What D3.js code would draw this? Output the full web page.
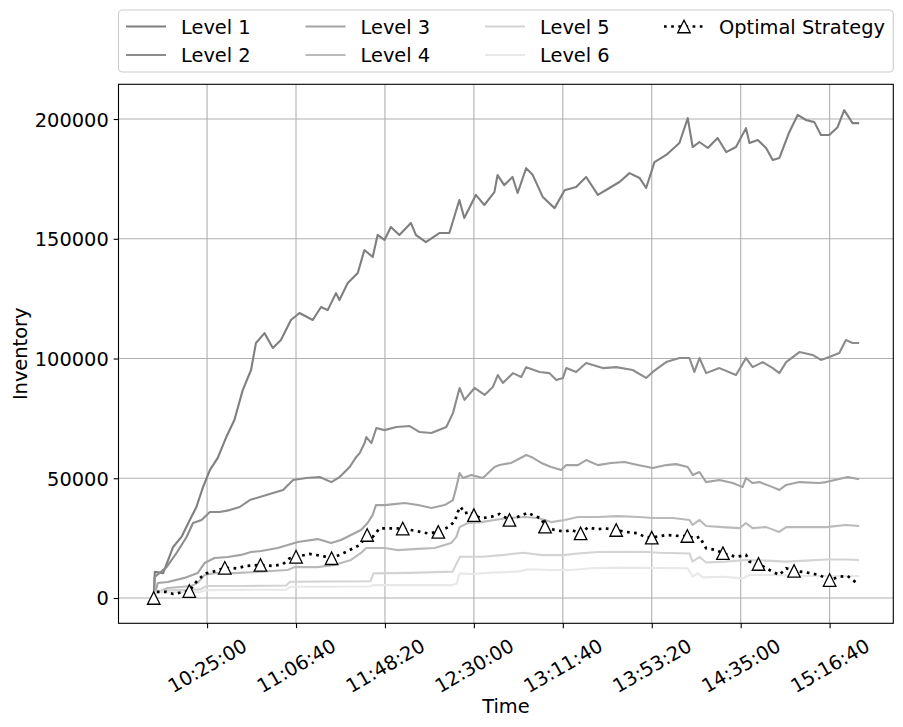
<!DOCTYPE html>
<html>
<head>
<meta charset="utf-8">
<script src="https://cdn.jsdelivr.net/npm/d3@7"></script>
<style>
  body { margin: 0; background: #fff; }
  svg { display: block; }
  text { font-family: "DejaVu Sans", sans-serif; }
</style>
</head>
<body>
<svg id="chart" width="903" height="727"></svg>
<script>
// minutes after session start, inventory
const startTime = '10:00:00';
const xTickLabels = ['10:25:00', '11:06:40', '11:48:20', '12:30:00', '13:11:40', '13:53:20', '14:35:00', '15:16:40'];
const yTickValues = [0, 50000, 100000, 150000, 200000];
const seriesNames = ['Level 1', 'Level 2', 'Level 3', 'Level 4', 'Level 5', 'Level 6'];

const level1 = [[0,0],[0.5,10900],[4.4,10400],[9.1,21300],[13.0,25500],[16.9,32600],[20.0,38000],[23.1,46300],[26.3,53400],[30.0,58500],[33.8,66800],[37.8,74300],[41.7,86800],[45.6,95200],[47.9,106500],[51.9,110600],[55.8,104400],[59.6,107700],[64.3,116100],[68.3,119000],[74.5,116100],[78.4,121500],[81.5,120200],[85.4,127300],[87.0,124400],[90.9,131500],[95.6,135700],[98.7,145300],[102.6,142400],[104.9,151600],[108.1,149500],[111.1,154900],[115.1,151600],[120.5,156600],[122.8,151600],[127.5,148600],[133.8,152400],[138.5,152400],[143.2,166200],[145.5,158700],[150.9,168300],[154.9,164100],[159.6,169500],[161.1,176600],[164.2,172400],[168.1,175800],[170.5,169100],[174.5,179500],[177.6,176600],[182.3,167400],[187.8,162800],[192.5,170300],[197.9,171600],[202.6,175800],[208.1,168300],[213.5,171200],[218.2,173700],[222.9,177400],[227.6,175400],[230.7,171200],[234.6,182000],[240.1,185000],[246.3,190000],[250.2,200400],[252.5,188300],[255.7,190400],[259.6,187900],[264.2,192100],[268.2,186200],[272.8,188300],[277.5,196200],[279.1,190000],[283.0,191200],[286.9,187900],[290.0,182900],[293.1,183700],[297.8,194600],[301.7,201700],[305.6,199600],[309.5,198700],[312.6,193300],[316.5,193300],[320.4,196600],[323.5,203700],[327.4,198300],[330,198300]];

const level2 = [[0,0],[0.5,8800],[6.0,12900],[10.7,18800],[15.4,25500],[18.4,31300],[22.4,32600],[26.3,35900],[30.9,35900],[35.6,36700],[40.3,38000],[45.0,40900],[49.7,42200],[55.9,43800],[60.6,45100],[65.3,49300],[71.5,50100],[77.8,50500],[83.2,48400],[87.1,50500],[91.8,54700],[94.9,58900],[96.5,60500],[98.8,64700],[99.6,67200],[102.0,64700],[104.3,71000],[108.1,70100],[113.7,71400],[119.9,71800],[124.6,69300],[130.1,68900],[137.1,71400],[140.2,77200],[143.3,87700],[145.6,82700],[150.3,87700],[155.0,84800],[158.9,88100],[161.2,93100],[163.6,89800],[168.3,93900],[172.2,92300],[174.5,96400],[180.8,94400],[185.4,93900],[188.6,91000],[191.7,91900],[193.3,96000],[197.9,94400],[202.6,98100],[210.4,96000],[216.7,96400],[224.4,95200],[230.7,91900],[233.8,94400],[240.1,98500],[246.3,100200],[251.0,100200],[253.3,94400],[255.7,100200],[258.8,93900],[265.0,96000],[272.8,93100],[277.5,100200],[280.6,96400],[285.3,98500],[290.0,96000],[293.1,93900],[296.3,98500],[302.5,102700],[308.7,101500],[312.6,99400],[316.5,100600],[321.2,102300],[324.3,107700],[327.4,106500],[330,106500]];

const level3 = [[0,0],[1.9,6300],[6.6,6700],[14.4,8400],[20.6,10400],[23.8,14600],[28.5,16700],[34.7,17100],[40.9,18000],[45.6,19200],[50.3,19600],[58.1,20900],[62.8,22100],[67.5,23400],[76.8,24600],[83.1,23000],[87.7,24200],[92.4,26300],[97.1,28400],[100.2,31300],[102.6,34700],[104.1,38800],[108.2,38800],[117.6,39700],[123.8,38800],[130.1,37600],[136.3,38800],[140.2,40900],[141.8,46300],[143.3,52200],[144.9,50100],[148.8,51400],[154.2,50100],[159.7,54700],[162.0,55500],[167.5,56400],[174.5,59700],[176.9,58900],[181.6,56400],[186.2,54700],[190.9,53400],[193.3,55500],[198.7,55500],[202.6,57600],[208.1,55500],[214.3,56400],[220.6,56800],[226.8,55500],[233.8,54300],[240.1,55500],[244.8,55900],[250.2,54700],[252.5,51400],[255.7,52600],[258.8,48400],[265.0,49300],[271.3,48000],[275.9,46300],[277.5,50100],[280.6,48000],[283.8,48400],[290.0,46300],[293.1,45100],[296.3,47200],[302.5,48400],[311.8,48000],[315.0,48400],[321.2,49700],[325.1,50500],[330,49700]];

const level4 = [[0,0],[0.6,2000],[6.6,4200],[17.5,5000],[20.6,6300],[23.8,9600],[28.5,10400],[37.8,10400],[48.7,10900],[62.8,11700],[65.9,12900],[76.8,12900],[84.6,13800],[92.4,15900],[97.1,18800],[99.6,20900],[108.2,20900],[114.4,20000],[123.8,20500],[131.6,20900],[139.4,23000],[141.8,25500],[143.3,29600],[147.2,31300],[153.5,31700],[159.7,32600],[165.9,33400],[173.7,33800],[180.0,33400],[186.2,31700],[192.5,32600],[198.7,33800],[208.1,33800],[217.4,34200],[227.6,33800],[233.8,33400],[243.2,33400],[251.0,32600],[252.5,30500],[255.7,32600],[258.8,30100],[266.6,29600],[274.4,29200],[277.5,31300],[280.6,29200],[286.9,29600],[293.1,27600],[296.3,29600],[305.6,29600],[315.0,29600],[324.3,30500],[330,30100]];

const level5 = [[0,0],[1,2900],[10,3300],[22,3600],[24.5,5000],[40,5000],[62,5200],[64,6800],[80,6900],[101.5,7000],[103,10300],[120,10500],[140,11000],[142.5,15500],[143.5,17200],[154,17200],[163,17900],[173,18900],[182,17900],[192,17900],[198.7,18600],[208.1,19200],[229.9,19300],[237,18900],[251,18600],[252.5,15200],[255.7,17200],[258.8,14800],[268,15200],[277.5,15900],[286.9,15600],[296.3,15200],[305.6,15600],[315,16100],[324.3,16100],[330,15900]];

const level6 = [[0,0],[1,2300],[22,2500],[24.5,3300],[62,3500],[64,4700],[101.5,4800],[103,5400],[140,5400],[142,6100],[143.3,10300],[148.8,10000],[158.1,10600],[170.6,11000],[175.3,12000],[186.2,11700],[195.6,11700],[205,12400],[217.4,12700],[250.2,12400],[252.5,8900],[254.8,10300],[257.2,8600],[266.6,8900],[276,8200],[279.1,9600],[290,9600],[305.6,9200],[330,9200]];

const optimal = [[0,0],[1.3,2600],[6.0,2600],[9.1,1700],[12.2,2200],[16.67,2900],[20.0,6800],[22.4,8900],[24.7,10300],[27.8,11000],[33.33,12600],[38.8,12400],[43.4,13400],[50,13800],[55.9,13400],[60.6,14200],[63.7,16600],[66.67,17200],[73.1,18400],[79.3,17500],[83.33,16600],[87.1,18000],[91.8,20000],[96.5,22100],[100,26300],[102.7,25600],[105.8,29100],[109.7,29100],[116.67,29000],[122.2,28100],[128.5,27000],[133.33,27600],[137.8,29500],[141.0,31900],[142.5,36000],[143.8,38100],[145.6,35400],[148.8,36000],[150,34600],[153.5,33300],[158.1,33900],[162.0,35100],[166.67,32600],[170.6,33900],[175.3,35600],[178.4,34200],[181.6,33300],[183.33,29800],[187.8,28400],[192.5,27700],[195.6,28400],[200,27000],[203.4,29500],[208.1,28700],[211.3,29100],[216.67,28400],[220.6,27700],[226.8,27000],[229.9,25600],[233.33,25200],[240.1,26300],[246.3,25900],[250,25900],[254.1,24900],[255.7,25600],[258.8,20800],[263.5,20000],[266.67,18700],[272.8,17200],[277.5,18000],[279.1,15200],[283.33,14200],[288.5,11700],[293.1,9600],[296.3,12400],[300,11300],[305.6,10700],[311.8,9600],[316.67,7500],[321.2,8900],[325.1,9200],[330,5800]];

const levels = [level1, level2, level3, level4, level5, level6];

// ---- layout / style ----
const fontSize = 19.4;
const plot = { left: 118.5, right: 893.3, top: 84.3, bottom: 623.3 };
const levelColors = ['#7f7f7f', '#8c8c8c', '#a3a3a3', '#bababa', '#d3d3d3', '#e8e8e8'];
const lw = 2.1;
const dotW = 2.7;
const dash = `${dotW},${dotW * 1.65}`;
const tickLen = 4.86;
const triHalf = 6.25;
const triPath = `M0,${-triHalf}L${-triHalf},${triHalf}L${triHalf},${triHalf}Z`;

const parseTime = d3.timeParse('%H:%M:%S');
const t0 = parseTime(startTime);
const toDate = (m) => new Date(t0.getTime() + m * 60000);

const x = d3.scaleTime()
  .domain([parseTime('09:43:30'), parseTime('15:46:30')])
  .range([plot.left, plot.right]);
const y = d3.scaleLinear()
  .domain([-10560, 214500])
  .range([plot.bottom, plot.top]);

const xTicks = xTickLabels.map(parseTime);

const svg = d3.select('#chart');

// grid
const grid = svg.append('g').attr('class', 'grid')
  .attr('stroke', '#b0b0b0').attr('stroke-width', 1.1);
grid.selectAll('line.gx').data(xTicks).join('line')
  .attr('class', 'gx')
  .attr('x1', (d) => x(d)).attr('x2', (d) => x(d))
  .attr('y1', plot.top).attr('y2', plot.bottom);
grid.selectAll('line.gy').data(yTickValues).join('line')
  .attr('class', 'gy')
  .attr('x1', plot.left).attr('x2', plot.right)
  .attr('y1', (d) => y(d)).attr('y2', (d) => y(d));

const line = d3.line()
  .x((d) => x(toDate(d[0])))
  .y((d) => y(d[1]));

// level lines
svg.append('g').attr('class', 'levels')
  .selectAll('path').data(levels).join('path')
  .attr('d', line)
  .attr('fill', 'none')
  .attr('stroke', (d, i) => levelColors[i])
  .attr('stroke-width', lw)
  .attr('stroke-linejoin', 'round')
  .attr('stroke-linecap', 'square');

// optimal strategy
svg.append('path')
  .datum(optimal)
  .attr('d', line)
  .attr('fill', 'none')
  .attr('stroke', '#000')
  .attr('stroke-width', dotW)
  .attr('stroke-dasharray', dash);

// marker every 1000 s
const markers = optimal.filter((d) => Math.round(d[0] * 60) % 1000 === 0);
svg.append('g').attr('class', 'markers')
  .selectAll('path').data(markers).join('path')
  .attr('transform', (d) => `translate(${x(toDate(d[0]))},${y(d[1])})`)
  .attr('d', triPath)
  .attr('fill', '#fff')
  .attr('stroke', '#000')
  .attr('stroke-width', 1.3);

// axes
const xAxis = svg.append('g')
  .attr('transform', `translate(0,${plot.bottom})`)
  .call(d3.axisBottom(x).tickValues(xTicks)
    .tickFormat(d3.timeFormat('%H:%M:%S')).tickSize(tickLen));
xAxis.select('.domain').remove();
xAxis.selectAll('.tick line').attr('stroke', '#000').attr('stroke-width', 1.1);
xAxis.selectAll('.tick text')
  .attr('y', null).attr('dy', null)
  .attr('fill', '#000')
  .style('font-size', `${fontSize}px`)
  .attr('text-anchor', 'middle')
  .attr('dominant-baseline', 'central')
  .attr('transform', 'translate(0,42.7) rotate(-30)');

const yAxis = svg.append('g')
  .attr('transform', `translate(${plot.left},0)`)
  .call(d3.axisLeft(y).tickValues(yTickValues)
    .tickFormat(d3.format('d')).tickSize(tickLen).tickPadding(4.86));
yAxis.select('.domain').remove();
yAxis.selectAll('.tick line').attr('stroke', '#000').attr('stroke-width', 1.1);
yAxis.selectAll('.tick text')
  .attr('fill', '#000')
  .style('font-size', `${fontSize}px`)
  .attr('dy', '0.36em');

// spines
svg.append('rect')
  .attr('x', plot.left).attr('y', plot.top)
  .attr('width', plot.right - plot.left).attr('height', plot.bottom - plot.top)
  .attr('fill', 'none').attr('stroke', '#000').attr('stroke-width', 1.1);

// axis labels
svg.append('text')
  .attr('x', (plot.left + plot.right) / 2).attr('y', 713)
  .attr('text-anchor', 'middle').style('font-size', `${fontSize}px`)
  .text('Time');
svg.append('text')
  .attr('transform', `translate(27,${(plot.top + plot.bottom) / 2}) rotate(-90)`)
  .attr('text-anchor', 'middle').style('font-size', `${fontSize}px`)
  .text('Inventory');

// legend
const legend = svg.append('g').attr('class', 'legend');
legend.append('rect')
  .attr('x', plot.left).attr('y', 10)
  .attr('width', plot.right - plot.left).attr('height', 62)
  .attr('rx', 4).attr('ry', 4)
  .attr('fill', '#fff').attr('fill-opacity', 0.8)
  .attr('stroke', '#cccccc').attr('stroke-width', 1.1);

const colX = [126, 305.5, 485, 664];
const rowY = [26.5, 55];
const entries = seriesNames.map((name, i) => ({
  name, color: levelColors[i], col: Math.floor(i / 2), row: i % 2, optimal: false,
}));
entries.push({ name: 'Optimal Strategy', color: '#000', col: 3, row: 0, optimal: true });

const item = legend.selectAll('g.item').data(entries).join('g')
  .attr('class', 'item')
  .attr('transform', (d) => `translate(${colX[d.col]},${rowY[d.row]})`);
item.append('line')
  .attr('x1', 0).attr('x2', 40).attr('y1', 0).attr('y2', 0)
  .attr('stroke', (d) => d.color)
  .attr('stroke-width', (d) => (d.optimal ? dotW : lw))
  .attr('stroke-dasharray', (d) => (d.optimal ? dash : null));
item.filter((d) => d.optimal).append('path')
  .attr('transform', 'translate(20,0)')
  .attr('d', triPath)
  .attr('fill', '#fff').attr('stroke', '#000').attr('stroke-width', 1.3);
item.append('text')
  .attr('x', 55).attr('y', 7)
  .style('font-size', `${fontSize}px`)
  .text((d) => d.name);
</script>
</body>
</html>
